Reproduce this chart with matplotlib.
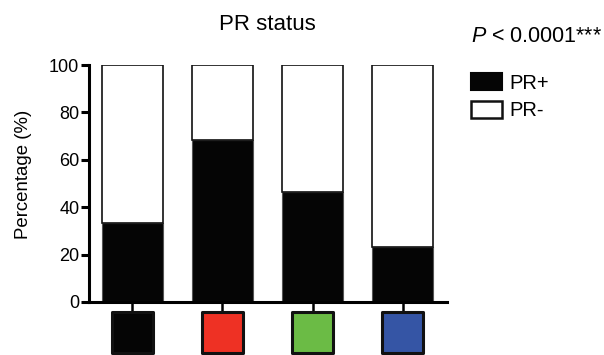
import matplotlib
matplotlib.use("Agg")
import matplotlib.pyplot as plt
from matplotlib.patches import Patch
import numpy as np

plt.rcParams['font.family'] = ['Liberation Sans', 'DejaVu Sans']
plt.rcParams['mathtext.fontset'] = 'custom'
plt.rcParams['mathtext.rm'] = 'Liberation Sans'
plt.rcParams['mathtext.it'] = 'Liberation Sans:italic'

groups = ['black', 'red', 'green', 'blue']
group_colors = ['#050505', '#EE3124', '#6BBB45', '#3555A5']
pr_pos = [33.5, 68.5, 46.5, 23.3]
pr_neg = [100 - v for v in pr_pos]

fig = plt.figure(figsize=(6.04, 3.55), dpi=100)
ax = fig.add_axes([0.1474, 0.1493, 0.5922, 0.6676])

x = np.arange(len(groups))
ax.bar(x, pr_pos, width=0.68, color='#050505', edgecolor='#555555', linewidth=0.8)
ax.bar(x, pr_neg, bottom=pr_pos, width=0.68, color='white', edgecolor='#111111', linewidth=1.2)

ax.set_xlim(-0.482, 3.49)
ax.set_ylim(0, 100)
for s in ['top', 'right']:
    ax.spines[s].set_visible(False)
for s in ['left', 'bottom']:
    ax.spines[s].set_linewidth(2.2)

ax.set_yticks([0, 20, 40, 60, 80, 100])
ax.tick_params(axis='y', length=6, width=2.2, labelsize=13, pad=1)
ax.set_xticks(x)
ax.set_xticklabels([])
ax.tick_params(axis='x', length=7, width=1.8)

# group colour boxes under the axis
ax.scatter(x, [-0.13] * len(x), marker='s', s=880, c=group_colors,
           edgecolors='#111111', linewidths=2.2, clip_on=False,
           transform=ax.get_xaxis_transform(), zorder=5)

ax.set_ylabel('Percentage (%)', fontsize=13.4)
ax.yaxis.set_label_coords(-0.16, 0.54)

fig.text(267 / 604, 1 - 24 / 355, 'PR status', fontsize=16, ha='center', va='center')
fig.text(471 / 604, 1 - 36 / 355, '$P$ < 0.0001***', fontsize=15.5, ha='left', va='center')

handles = [Patch(facecolor='#050505', edgecolor='#050505', linewidth=1.5, label='PR+'),
           Patch(facecolor='white', edgecolor='#111111', linewidth=1.8, label='PR-')]
fig.legend(handles=handles, loc='upper left', bbox_to_anchor=(463 / 604, 1 - 65 / 355),
           frameon=False, fontsize=14.5, handlelength=1.55, handleheight=0.95,
           labelspacing=0.4, handletextpad=0.35, borderaxespad=0)

fig.savefig('out.png', dpi=100)
